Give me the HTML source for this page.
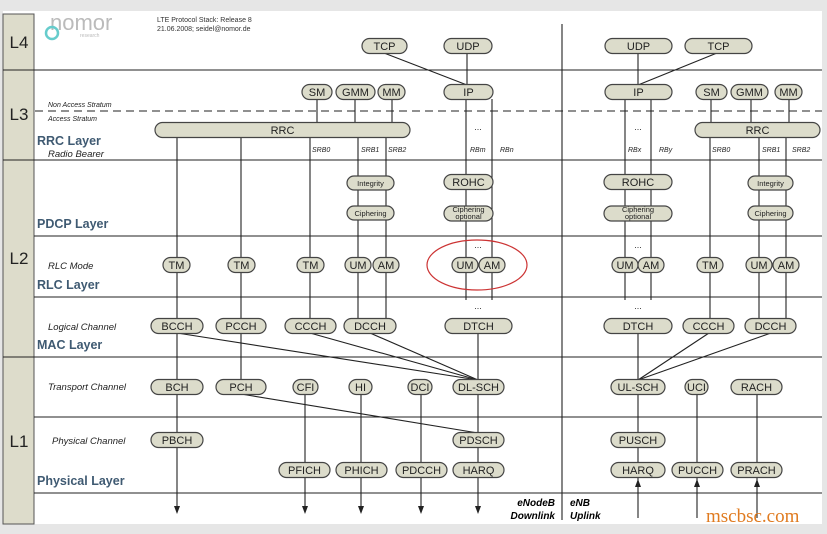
<!DOCTYPE html>
<html><head><meta charset="utf-8"><style>
body{margin:0;background:#e6e6e6;}
svg{display:block;font-family:"Liberation Sans",sans-serif;}
.n{fill:#dcdccb;stroke:#444;stroke-width:1.2}
.t{font-size:11px;text-anchor:middle;fill:#222}
.s{font-size:7.5px;text-anchor:middle;fill:#222}
.i{font-size:9.5px;font-style:italic;fill:#222}
.si{font-size:7px;font-style:italic;fill:#222}
.b{font-size:12.5px;font-weight:bold;fill:#3f5a72}
.L{font-size:17px;text-anchor:middle;fill:#222}
line{stroke:#222;stroke-width:1.1}
</style></head><body>
<svg width="827" height="534" viewBox="0 0 827 534">
<rect x="3" y="11" width="819" height="513" fill="#fff"/>
<rect x="3" y="14" width="31" height="510" fill="#dddccb" stroke="#555"/>
<g stroke="#555" stroke-width="1.5">
<line x1="3" y1="70" x2="822" y2="70"/><line x1="3" y1="160" x2="822" y2="160"/>
<line x1="34" y1="236" x2="822" y2="236"/><line x1="34" y1="297" x2="822" y2="297"/>
<line x1="3" y1="357" x2="822" y2="357" stroke-width="2.5"/><line x1="34" y1="417" x2="822" y2="417"/>
<line x1="34" y1="493" x2="822" y2="493"/>
<line x1="35" y1="111" x2="822" y2="111" stroke-dasharray="8,5"/>
<line x1="562" y1="24" x2="562" y2="520"/>
</g>
<text class="L" x="19" y="48">L4</text><text class="L" x="19" y="120">L3</text>
<text class="L" x="19" y="264">L2</text><text class="L" x="19" y="447">L1</text>
<text x="50" y="30" font-size="22" fill="#bbb">nomor</text>
<text x="80" y="37" font-size="5" fill="#bbb">research</text>
<circle cx="52" cy="33" r="6" fill="none" stroke="#6cc" stroke-width="2.5"/>
<text x="157" y="22" font-size="7" fill="#333">LTE Protocol Stack: Release 8</text>
<text x="157" y="31" font-size="7" fill="#333">21.06.2008; seidel@nomor.de</text>
<text class="si" x="48" y="107">Non Access Stratum</text><text class="si" x="48" y="121">Access Stratum</text>
<text class="b" x="37" y="145">RRC Layer</text><text class="i" x="48" y="157">Radio Bearer</text>
<text class="b" x="37" y="228">PDCP Layer</text>
<text class="i" x="48" y="269">RLC Mode</text><text class="b" x="37" y="289">RLC Layer</text>
<text class="i" x="48" y="330">Logical Channel</text><text class="b" x="37" y="349">MAC Layer</text>
<text class="i" x="48" y="390">Transport Channel</text>
<text class="i" x="52" y="444">Physical Channel</text><text class="b" x="37" y="485">Physical Layer</text>
<g class="si">
<text x="312" y="152">SRB0</text><text x="361" y="152">SRB1</text><text x="388" y="152">SRB2</text>
<text x="470" y="152">RBm</text><text x="500" y="152">RBn</text>
<text x="628" y="152">RBx</text><text x="659" y="152">RBy</text>
<text x="712" y="152">SRB0</text><text x="762" y="152">SRB1</text><text x="792" y="152">SRB2</text>
</g>
<g font-size="9" text-anchor="middle" fill="#333">
<text x="478" y="130">...</text><text x="638" y="130">...</text>
<text x="478" y="248">...</text><text x="638" y="248">...</text>
<text x="478" y="309">...</text><text x="638" y="309">...</text></g>
<g>
<line x1="384" y1="53" x2="467" y2="85"/><line x1="467" y1="53" x2="467" y2="85"/>
<line x1="638" y1="53" x2="638" y2="85"/><line x1="717" y1="53" x2="638" y2="85"/>
<line x1="317" y1="99" x2="317" y2="123"/><line x1="355" y1="99" x2="355" y2="123"/><line x1="392" y1="99" x2="392" y2="123"/>
<line x1="711" y1="99" x2="711" y2="123"/><line x1="751" y1="99" x2="751" y2="123"/><line x1="789" y1="99" x2="789" y2="123"/>
<line x1="177" y1="137" x2="177" y2="508"/>
<line x1="241" y1="137" x2="241" y2="387"/>
<line x1="310" y1="137" x2="310" y2="326"/>
<line x1="358" y1="137" x2="358" y2="326"/><line x1="386" y1="137" x2="386" y2="326"/>
<line x1="466" y1="99" x2="466" y2="300"/><line x1="492" y1="99" x2="492" y2="300"/>
<line x1="625" y1="99" x2="625" y2="300"/><line x1="651" y1="99" x2="651" y2="300"/>
<line x1="710" y1="137" x2="710" y2="326"/>
<line x1="759" y1="137" x2="759" y2="326"/><line x1="786" y1="137" x2="786" y2="326"/>
<line x1="478" y1="326" x2="478" y2="508"/>
<line x1="638" y1="326" x2="638" y2="518"/>
<line x1="177" y1="333" x2="478" y2="380"/><line x1="310" y1="333" x2="478" y2="380"/><line x1="370" y1="333" x2="478" y2="380"/>
<line x1="709" y1="333" x2="638" y2="380"/><line x1="771" y1="333" x2="638" y2="380"/>
<line x1="241" y1="394" x2="478" y2="433"/>
<line x1="305" y1="387" x2="305" y2="508"/>
<line x1="361" y1="387" x2="361" y2="508"/>
<line x1="421" y1="387" x2="421" y2="508"/>
<line x1="697" y1="387" x2="697" y2="518"/>
<line x1="757" y1="387" x2="757" y2="518"/>
</g>
<g fill="#222">
<path d="M174,506 L180,506 L177,514 z"/><path d="M302,506 L308,506 L305,514 z"/>
<path d="M358,506 L364,506 L361,514 z"/><path d="M418,506 L424,506 L421,514 z"/>
<path d="M475,506 L481,506 L478,514 z"/>
<path d="M635,487 L641,487 L638,479 z"/><path d="M694,487 L700,487 L697,479 z"/>
<path d="M754,487 L760,487 L757,479 z"/>
</g>
<ellipse cx="477" cy="265" rx="50" ry="25" fill="none" stroke="#c33" stroke-width="1.2"/>
<g>
<rect class="n" x="362" y="38.5" width="45" height="15" rx="7.5"/><text class="t" x="384.5" y="50">TCP</text>
<rect class="n" x="444" y="38.5" width="48" height="15" rx="7.5"/><text class="t" x="468" y="50">UDP</text>
<rect class="n" x="605" y="38.5" width="67" height="15" rx="7.5"/><text class="t" x="638.5" y="50">UDP</text>
<rect class="n" x="685" y="38.5" width="67" height="15" rx="7.5"/><text class="t" x="718.5" y="50">TCP</text>

<rect class="n" x="302" y="84.5" width="30" height="15" rx="7.5"/><text class="t" x="317" y="96">SM</text>
<rect class="n" x="336" y="84.5" width="39" height="15" rx="7.5"/><text class="t" x="355.5" y="96">GMM</text>
<rect class="n" x="378" y="84.5" width="27" height="15" rx="7.5"/><text class="t" x="391.5" y="96">MM</text>
<rect class="n" x="444" y="84.5" width="49" height="15" rx="7.5"/><text class="t" x="468.5" y="96">IP</text>
<rect class="n" x="605" y="84.5" width="67" height="15" rx="7.5"/><text class="t" x="638.5" y="96">IP</text>
<rect class="n" x="696" y="84.5" width="31" height="15" rx="7.5"/><text class="t" x="711.5" y="96">SM</text>
<rect class="n" x="731" y="84.5" width="37" height="15" rx="7.5"/><text class="t" x="749.5" y="96">GMM</text>
<rect class="n" x="775" y="84.5" width="27" height="15" rx="7.5"/><text class="t" x="788.5" y="96">MM</text>

<rect class="n" x="155" y="122.5" width="255" height="15" rx="7.5"/><text class="t" x="282.5" y="134">RRC</text>
<rect class="n" x="695" y="122.5" width="125" height="15" rx="7.5"/><text class="t" x="757.5" y="134">RRC</text>

<rect class="n" x="347" y="176" width="47" height="14" rx="7"/><text class="s" x="370.5" y="186">Integrity</text>
<rect class="n" x="347" y="206" width="47" height="14" rx="7"/><text class="s" x="370.5" y="216">Ciphering</text>
<rect class="n" x="444" y="174.5" width="49" height="15" rx="7.5"/><text class="t" x="468.5" y="186">ROHC</text>
<rect class="n" x="444" y="206" width="49" height="15" rx="7.5"/><text class="s" x="468.5" y="212">Ciphering</text><text class="s" x="468.5" y="219">optional</text>
<rect class="n" x="604" y="174.5" width="68" height="15" rx="7.5"/><text class="t" x="638" y="186">ROHC</text>
<rect class="n" x="604" y="206" width="68" height="15" rx="7.5"/><text class="s" x="638" y="212">Ciphering</text><text class="s" x="638" y="219">optional</text>
<rect class="n" x="748" y="176" width="45" height="14" rx="7"/><text class="s" x="770.5" y="186">Integrity</text>
<rect class="n" x="748" y="206" width="45" height="14" rx="7"/><text class="s" x="770.5" y="216">Ciphering</text>

<rect class="n" x="163" y="257.5" width="27" height="15" rx="7.5"/><text class="t" x="176.5" y="269">TM</text>
<rect class="n" x="228" y="257.5" width="27" height="15" rx="7.5"/><text class="t" x="241.5" y="269">TM</text>
<rect class="n" x="297" y="257.5" width="27" height="15" rx="7.5"/><text class="t" x="310.5" y="269">TM</text>
<rect class="n" x="345" y="257.5" width="26" height="15" rx="7.5"/><text class="t" x="358" y="269">UM</text>
<rect class="n" x="373" y="257.5" width="26" height="15" rx="7.5"/><text class="t" x="386" y="269">AM</text>
<rect class="n" x="452" y="257.5" width="26" height="15" rx="7.5"/><text class="t" x="465" y="269">UM</text>
<rect class="n" x="479" y="257.5" width="26" height="15" rx="7.5"/><text class="t" x="492" y="269">AM</text>
<rect class="n" x="612" y="257.5" width="26" height="15" rx="7.5"/><text class="t" x="625" y="269">UM</text>
<rect class="n" x="638" y="257.5" width="26" height="15" rx="7.5"/><text class="t" x="651" y="269">AM</text>
<rect class="n" x="697" y="257.5" width="26" height="15" rx="7.5"/><text class="t" x="710" y="269">TM</text>
<rect class="n" x="746" y="257.5" width="26" height="15" rx="7.5"/><text class="t" x="759" y="269">UM</text>
<rect class="n" x="773" y="257.5" width="26" height="15" rx="7.5"/><text class="t" x="786" y="269">AM</text>

<rect class="n" x="151" y="318.5" width="52" height="15" rx="7.5"/><text class="t" x="177" y="330">BCCH</text>
<rect class="n" x="216" y="318.5" width="50" height="15" rx="7.5"/><text class="t" x="241" y="330">PCCH</text>
<rect class="n" x="285" y="318.5" width="51" height="15" rx="7.5"/><text class="t" x="310.5" y="330">CCCH</text>
<rect class="n" x="344" y="318.5" width="52" height="15" rx="7.5"/><text class="t" x="370" y="330">DCCH</text>
<rect class="n" x="445" y="318.5" width="67" height="15" rx="7.5"/><text class="t" x="478.5" y="330">DTCH</text>
<rect class="n" x="604" y="318.5" width="68" height="15" rx="7.5"/><text class="t" x="638" y="330">DTCH</text>
<rect class="n" x="683" y="318.5" width="51" height="15" rx="7.5"/><text class="t" x="708.5" y="330">CCCH</text>
<rect class="n" x="745" y="318.5" width="51" height="15" rx="7.5"/><text class="t" x="770.5" y="330">DCCH</text>

<rect class="n" x="151" y="379.5" width="52" height="15" rx="7.5"/><text class="t" x="177" y="391">BCH</text>
<rect class="n" x="216" y="379.5" width="50" height="15" rx="7.5"/><text class="t" x="241" y="391">PCH</text>
<rect class="n" x="293" y="379.5" width="25" height="15" rx="7.5"/><text class="t" x="305.5" y="391">CFI</text>
<rect class="n" x="349" y="379.5" width="23" height="15" rx="7.5"/><text class="t" x="360.5" y="391">HI</text>
<rect class="n" x="408" y="379.5" width="24" height="15" rx="7.5"/><text class="t" x="420" y="391">DCI</text>
<rect class="n" x="453" y="379.5" width="51" height="15" rx="7.5"/><text class="t" x="478.5" y="391">DL-SCH</text>
<rect class="n" x="611" y="379.5" width="54" height="15" rx="7.5"/><text class="t" x="638" y="391">UL-SCH</text>
<rect class="n" x="685" y="379.5" width="23" height="15" rx="7.5"/><text class="t" x="696.5" y="391">UCI</text>
<rect class="n" x="731" y="379.5" width="51" height="15" rx="7.5"/><text class="t" x="756.5" y="391">RACH</text>

<rect class="n" x="151" y="432.5" width="52" height="15" rx="7.5"/><text class="t" x="177" y="444">PBCH</text>
<rect class="n" x="453" y="432.5" width="51" height="15" rx="7.5"/><text class="t" x="478.5" y="444">PDSCH</text>
<rect class="n" x="611" y="432.5" width="54" height="15" rx="7.5"/><text class="t" x="638" y="444">PUSCH</text>

<rect class="n" x="279" y="462.5" width="51" height="15" rx="7.5"/><text class="t" x="304.5" y="474">PFICH</text>
<rect class="n" x="336" y="462.5" width="51" height="15" rx="7.5"/><text class="t" x="361.5" y="474">PHICH</text>
<rect class="n" x="396" y="462.5" width="51" height="15" rx="7.5"/><text class="t" x="421.5" y="474">PDCCH</text>
<rect class="n" x="453" y="462.5" width="51" height="15" rx="7.5"/><text class="t" x="478.5" y="474">HARQ</text>
<rect class="n" x="611" y="462.5" width="54" height="15" rx="7.5"/><text class="t" x="638" y="474">HARQ</text>
<rect class="n" x="672" y="462.5" width="51" height="15" rx="7.5"/><text class="t" x="697.5" y="474">PUCCH</text>
<rect class="n" x="731" y="462.5" width="51" height="15" rx="7.5"/><text class="t" x="756.5" y="474">PRACH</text>
</g>
<text x="555" y="506" font-size="10" font-weight="bold" font-style="italic" text-anchor="end">eNodeB</text>
<text x="555" y="519" font-size="10" font-weight="bold" font-style="italic" text-anchor="end">Downlink</text>
<text x="570" y="506" font-size="10" font-weight="bold" font-style="italic">eNB</text>
<text x="570" y="519" font-size="10" font-weight="bold" font-style="italic">Uplink</text>
<text x="706" y="522" font-size="19" font-family="Liberation Serif,serif" fill="#e07b20">mscbsc.com</text>
</svg>
</body></html>
